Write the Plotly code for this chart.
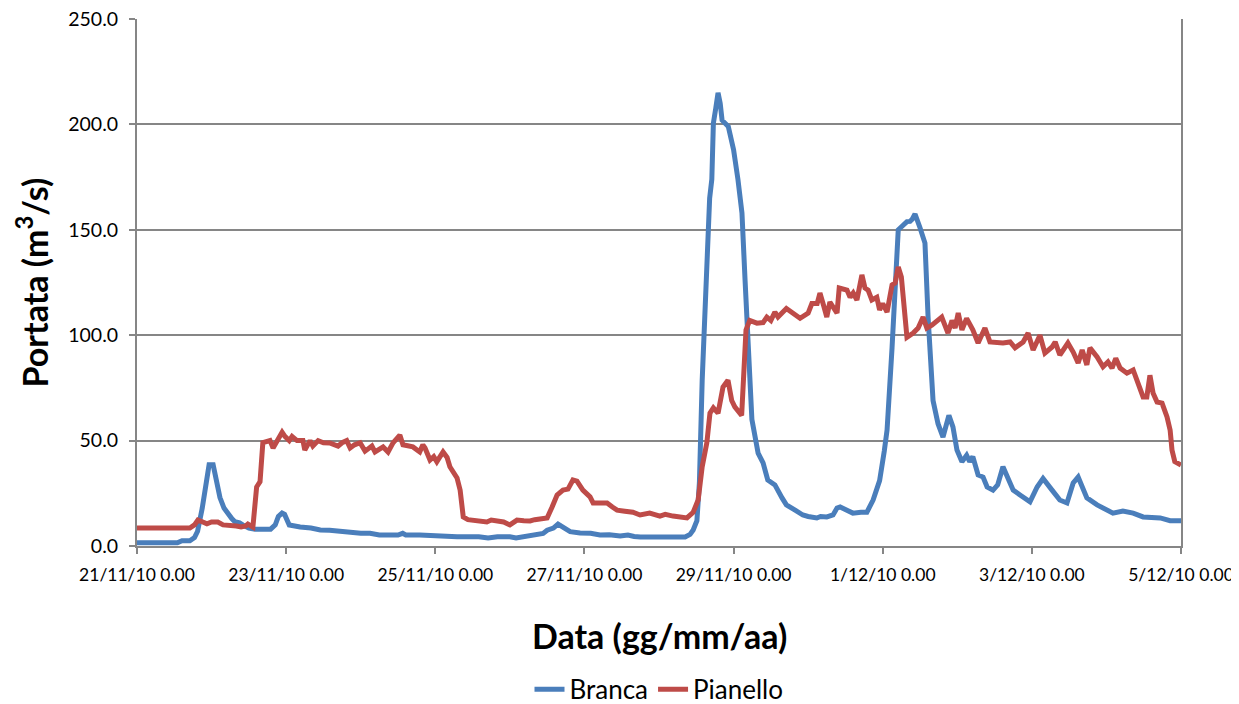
import datetime as dt
import plotly.graph_objects as go

start = dt.datetime(2010, 11, 21)

# Branca: hours from 21/11/10 0.00, discharge m3/s
branca_h = [0, 13, 14.5, 17, 18.5, 19.5, 21, 22.5, 23.2, 24.5, 25.5, 26.7, 28, 29, 30.5, 31.5, 33, 34, 36, 38,
            43, 44.5, 45.5, 46.7, 47.5, 49, 50.5, 52.5, 56, 59, 62, 65, 68, 72, 75, 78, 81, 84, 85.5, 86.5,
            91, 96, 100, 101.5, 103, 110, 113, 116, 120, 122, 125, 127.5, 129, 130.7, 132, 134, 135.5, 137,
            139.4, 142.6, 146, 149, 152, 155.5, 158, 160, 162, 170, 176.4, 178, 179, 180.2, 181, 181.9, 182.7,
            183.4, 184.3, 185, 185.5, 186.3, 187, 187.7, 188.3, 190.3, 192, 193.4, 194.7, 195.7, 196.7, 197.9,
            199.9, 201.5, 203, 205.3, 207.6, 209, 211.8, 214.3, 216, 218.8, 220, 222, 224, 225.3, 226.3, 228.5,
            230.4, 233, 234.9, 236.9, 239, 240.5, 241.4, 243, 244, 245, 247.8, 248.8, 249.5, 250.4, 252, 253.6,
            254.6, 256.2, 257.8, 259.4, 261.3, 262.6, 263.9, 265.5, 267, 268, 269, 270.7, 272.3, 273.6, 275.5,
            277, 278.7, 280.3, 282, 284.2, 287.4, 289.7, 291.6, 294.5, 297, 299.3, 301.3, 302.9, 305.7, 309,
            312.2, 314.1, 317.3, 320.6, 323.8, 329.3, 332.5, 336]
branca_q = [1.5, 1.5, 2.5, 2.5, 4, 7, 18, 33, 38.5, 38.5, 32, 23, 18, 15.6, 13, 11.5, 11, 10, 8.5, 8,
            8, 10, 14, 15.6, 15, 10, 9.5, 9, 8.5, 7.6, 7.5, 7, 6.5, 6, 6, 5.2, 5.2, 5.2, 6, 5.2,
            5.2, 4.8, 4.4, 4, 4.4, 4.4, 3.8, 4.4, 4.4, 3.8, 4.4, 4.8, 5.5, 6, 7.5, 8.5, 10.4, 9,
            6.8, 6.2, 6, 5.2, 5.3, 4.7, 5.2, 4.5, 4.3, 4.3, 4.3, 5.5, 7.6, 12, 30, 78.7, 110,
            142, 165, 174, 200.6, 208, 215, 210, 202, 199, 188, 174, 158, 126, 94, 60,
            44, 39.4, 31.3, 29, 22.8, 19.5, 17, 14.7, 14, 13.3, 14, 13.8, 14.7, 18, 18.5, 17,
            15.6, 16, 16, 21.8, 31, 45, 55, 94, 120, 150, 153.9, 154, 155, 157.5, 151, 143.7,
            108.6, 69, 58, 51.7, 62, 56.5, 45.5, 40, 43, 40, 42.4, 33.7, 32.7, 28, 26.5,
            29, 37.6, 32.7, 26.5, 24.2, 21, 28, 32, 26.5, 21.8, 20.4, 29.9, 32.7, 22.8, 19.5,
            17, 15.6, 16.6, 15.6, 13.8, 13.3, 12, 12]

# Pianello
pianello_h = [0, 17, 18.5, 19.6, 21, 22.5, 24, 26, 27.7, 30, 32, 33.5, 35, 35.7, 37.3, 38.5, 39.6, 40.5, 41.8,
              42.8, 43.8, 45, 46.7, 47.6, 49, 49.9, 51.5, 53.4, 54, 55.7, 56.6, 58.3, 60, 62, 64.7, 66, 67.5,
              68.6, 70, 71.8, 73.4, 75.6, 76.6, 79.2, 80.8, 82.4, 84.6, 85.6, 88.8, 91, 92, 92.7, 94.3, 95.5,
              96.5, 98.5, 99.8, 100.7, 103, 104, 105, 106.5, 108.2, 110, 112.6, 114, 115.8, 118, 120, 122.3,
              124.5, 126.5, 128, 129.7, 132, 133.6, 135.2, 137.1, 138.7, 140.3, 141.6, 143.5, 145.8, 146.8,
              149, 151.3, 153, 154.5, 157, 159.6, 161.9, 165, 168.3, 170, 172.5, 175, 177, 179, 180.6, 181.9,
              183.4, 184.4, 185.5, 187, 188.6, 190.2, 191.4, 192.4, 194.6, 196, 197.2, 199.5, 201.5, 202.7,
              204, 205.3, 206.3, 209, 210.8, 213.4, 216, 217.2, 218.9, 219.8, 221, 222, 223, 225.3, 226,
              228.5, 229.5, 230.5, 231.7, 233.3, 234.3, 235.3, 236.5, 238.1, 239, 240, 241.4, 243, 244, 245,
              246, 247, 247.8, 249.8, 251.4, 253, 254.2, 255.8, 259, 261, 262.3, 263.3, 264.3, 265.5, 267,
              269, 270.7, 272.9, 274.5, 278.7, 281, 282.6, 285.2, 286.8, 288.4, 290.6, 292.2, 294.5, 295.5,
              297, 299.6, 301.3, 302.9, 304.2, 305.7, 306.7, 309, 310.9, 312.5, 313.8, 315, 316.4, 318.6,
              320.6, 322.2, 323.8, 325, 326, 327, 328.3, 329.9, 331.5, 332.5, 333.1, 334, 336]
pianello_q = [8.5, 8.5, 10, 12.3, 11.5, 10.5, 11.4, 11.4, 10, 10, 9.5, 9, 9.5, 10.4, 9, 28, 30.5, 49, 49.5,
              50, 46.5, 49.5, 54, 52, 50, 52, 50, 50, 45.5, 50, 47.4, 50, 49, 48.9, 47.4, 49, 50,
              46.5, 48, 49, 45, 47.4, 44.6, 47, 44.6, 48.9, 52.6, 48, 47, 44.6, 48, 46.5, 40.8, 42.4,
              40, 44.6, 42, 37.6, 32.3, 26.5, 13.8, 12.5, 12.3, 11.8, 11.4, 12.3, 11.9, 11.4, 10, 12.3,
              12, 11.9, 12.5, 12.8, 13.3, 18.5, 24.2, 26.5, 27, 31.3, 30.8, 26.5, 23.3, 20.4,
              20.5, 20.4, 18.5, 17, 16.5, 16, 14.7, 15.6, 14.2, 15, 14.2, 14, 13.3, 16, 21.8, 37.6,
              49, 63, 65.5, 63, 75.4, 78.7, 69, 66, 62, 102.5, 107, 105.7, 106, 108.6,
              107, 111, 108.6, 112.7, 110.5, 108, 110.5, 115, 115, 120, 114, 108.6, 115.7, 110.5, 122.4,
              121.4, 118, 120, 116.7, 128.6, 122.4, 121.4, 116.7, 118, 112, 115, 111, 123.8, 124.8, 132.4,
              127.6, 113.4, 99, 101, 103.4, 108.6, 103.4, 104.8, 108.6, 101, 107, 103.4, 110.5, 102.5, 108,
              102.5, 96.3, 103.4, 96.8, 96.3, 96.8, 94, 96.8, 101, 93, 100, 91.5, 94.4, 96.8,
              90.6, 96.3, 92, 86.8, 93, 85.9, 94, 89.7, 85, 87.3, 84.4, 89, 84.4, 82,
              83.5, 77.3, 70.7, 70.7, 81, 72.6, 68.3, 67.8, 61.2, 55, 45.5, 40, 38.4]

tick_days = [0, 2, 4, 6, 8, 10, 12, 14]
tick_labels = ['21/11/10 0.00', '23/11/10 0.00', '25/11/10 0.00', '27/11/10 0.00',
               '29/11/10 0.00', '1/12/10 0.00', '3/12/10 0.00', '5/12/10 0.00']

grid = '#868686'
font = 'Lato'

fig = go.Figure()
fig.add_trace(go.Scatter(x=[start + dt.timedelta(hours=h) for h in branca_h], y=branca_q,
                         mode='lines', name='Branca',
                         line=dict(color='#4A7EBB', width=5)))
fig.add_trace(go.Scatter(x=[start + dt.timedelta(hours=h) for h in pianello_h], y=pianello_q,
                         mode='lines', name='Pianello',
                         line=dict(color='#BE4B48', width=5)))

# page body adds an 8px offset, so the figure is a bit smaller than the window
fig.update_layout(
    width=1231, height=696,
    margin=dict(l=129, r=58, t=11, b=158, autoexpand=False),
    plot_bgcolor='white', paper_bgcolor='white',
    font=dict(family=font, size=16, color='black'),
    xaxis=dict(
        range=[start, start + dt.timedelta(days=14)],
        tickvals=[start + dt.timedelta(days=d) for d in tick_days],
        ticktext=tick_labels,
        showgrid=False, zeroline=False, automargin=False,
        showline=True, linecolor=grid, linewidth=2,
        ticks='outside', ticklen=6, tickwidth=2, tickcolor=grid,
        tickfont=dict(family=font, size=17.5),
        ticklabelstandoff=6, ticklabeloverflow='allow',
    ),
    yaxis=dict(
        range=[0, 250], dtick=50, tickformat='.1f',
        showgrid=True, gridcolor=grid, gridwidth=2,
        zeroline=False, automargin=False,
        showline=True, linecolor=grid, linewidth=2, mirror=True,
        ticks='outside', ticklen=6, tickwidth=2, tickcolor=grid,
        tickfont=dict(family=font, size=19.5),
        ticklabelstandoff=7, ticklabeloverflow='allow',
    ),
    legend=dict(orientation='h', x=0.5, xanchor='center', y=-0.272, yanchor='middle',
                font=dict(family=font, size=26), tracegroupgap=0),
    annotations=[
        dict(text='<b>Data (gg/mm/aa)</b>', xref='paper', yref='paper', x=0.5, y=-0.169,
             xanchor='center', yanchor='middle', showarrow=False, font=dict(family=font, size=34)),
        dict(text='<b>Portata (m<sup>3</sup>/s)</b>', xref='paper', yref='paper', x=-0.1006, y=0.5,
             xanchor='center', yanchor='middle', textangle=-90, showarrow=False,
             font=dict(family=font, size=34)),
    ],
)

fig.write_html('out.html')
